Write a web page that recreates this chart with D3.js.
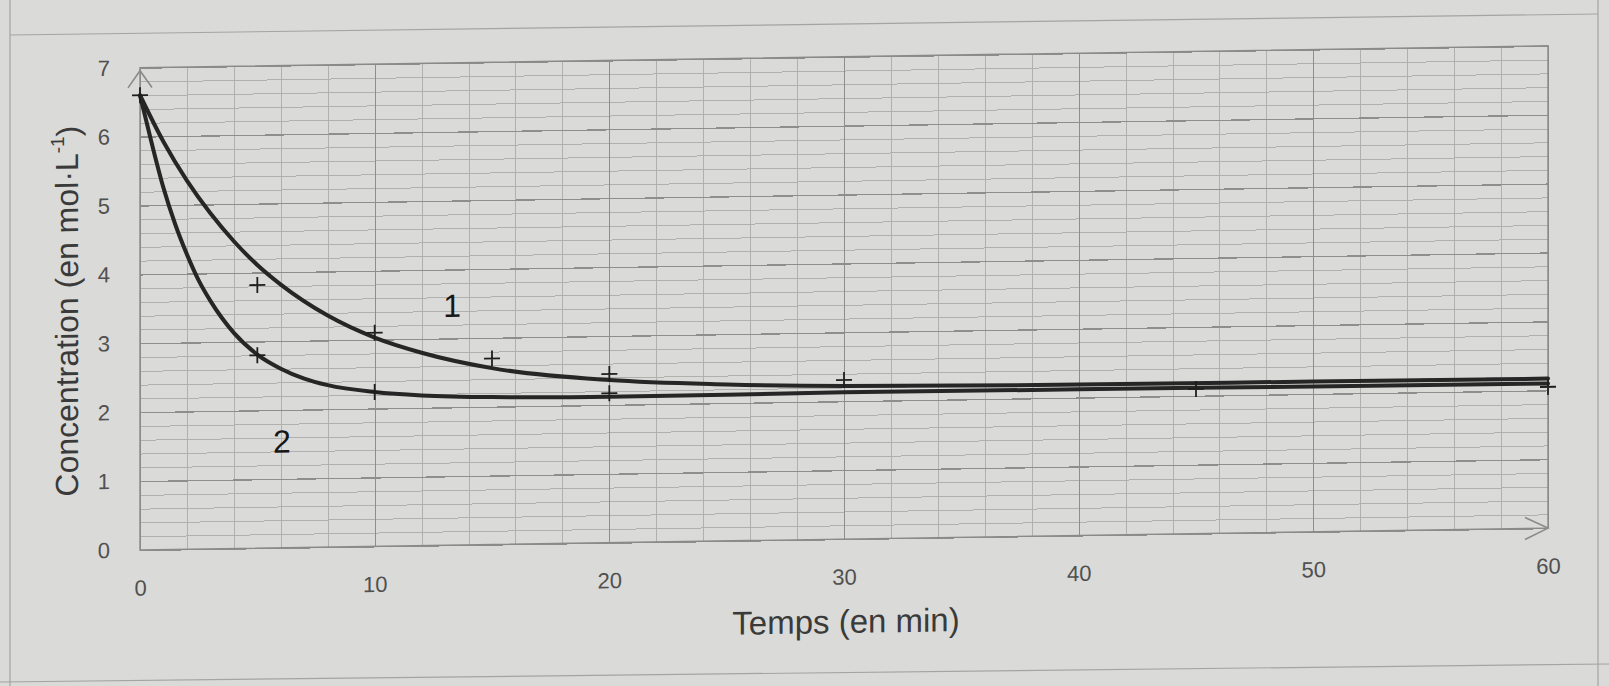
<!DOCTYPE html>
<html>
<head>
<meta charset="utf-8">
<script src="https://cdn.jsdelivr.net/npm/d3@7"></script>
<style>
  body { margin: 0; background: #dadad8; }
  svg { display: block; }
  .tick line { shape-rendering: crispEdges; }
</style>
</head>
<body>
<svg id="chart"></svg>
<script>
// data
var xTicks = [0, 10, 20, 30, 40, 50, 60];
var yTicks = [0, 1, 2, 3, 4, 5, 6, 7];

var t1 = [0, 1, 2, 3, 4, 5, 6, 8, 10, 12, 15, 20, 25, 30, 40, 50, 60];
var c1 = [6.6, 5.92, 5.35, 4.87, 4.46, 4.11, 3.82, 3.36, 3.03, 2.8, 2.56, 2.36, 2.27, 2.22, 2.19, 2.18, 2.17];

var t2 = [0, 0.5, 1, 1.5, 2, 2.5, 3, 4, 5, 6, 7, 8, 10, 12, 15, 20, 25, 30, 40, 50, 60];
var c2 = [6.6, 5.9, 5.25, 4.72, 4.28, 3.9, 3.6, 3.13, 2.81, 2.6, 2.45, 2.35, 2.24, 2.18, 2.14, 2.12, 2.12, 2.13, 2.12, 2.11, 2.1];

var markT = [0, 5, 5, 10, 10, 15, 20, 20, 30, 45, 60];
var markC = [6.6, 3.82, 2.8, 3.1, 2.24, 2.7, 2.45, 2.17, 2.31, 2.1, 2.05];

var curveNames = ["1", "2"];
var nameT = [13.3, 6.05];
var nameC = [3.48, 1.55];

var screen = {width: 1609, height: 686};
var plot = {left: 140, right: 1548, top: 67.7, bottom: 550};
var skew = -0.89; // the photo is a bit slanted

var svg = d3.select("#chart")
    .attr("width", screen.width)
    .attr("height", screen.height);

svg.append("rect")
    .attr("width", screen.width)
    .attr("height", screen.height)
    .attr("fill", "#dadad8");

// edges of the sheet
var sheet = svg.append("g")
    .attr("stroke", "#a4a4a2")
    .attr("stroke-width", 1.2)
    .attr("fill", "none");
sheet.append("line").attr("x1", 10).attr("y1", 0).attr("x2", 10).attr("y2", 686);
sheet.append("line").attr("x1", 10).attr("y1", 35).attr("x2", 1598).attr("y2", 14);
sheet.append("line").attr("x1", 1598).attr("y1", 0).attr("x2", 1598).attr("y2", 686);
sheet.append("line").attr("x1", 0).attr("y1", 682).attr("x2", 1609).attr("y2", 664);

var x = d3.scaleLinear().domain([0, 60]).range([plot.left, plot.right]);
var y = d3.scaleLinear().domain([0, 7]).range([plot.bottom, plot.top]);
var h = plot.bottom - plot.top;
var w = plot.right - plot.left;

var g = svg.append("g")
    .attr("transform", "translate(" + plot.left + ",0) skewY(" + skew + ") translate(" + (-plot.left) + ",0)");

// grid
var gridX = function(vals, color, width)
{
    var a = g.append("g")
        .attr("transform", "translate(0," + plot.bottom + ")")
        .call(d3.axisBottom(x).tickValues(vals).tickSize(-h).tickFormat(""));
    a.select(".domain").remove();
    a.selectAll("line").attr("stroke", color).attr("stroke-width", width);
};
var gridY = function(vals, color, width)
{
    var a = g.append("g")
        .attr("transform", "translate(" + plot.left + ",0)")
        .call(d3.axisLeft(y).tickValues(vals).tickSize(-w).tickFormat(""));
    a.select(".domain").remove();
    a.selectAll("line").attr("stroke", color).attr("stroke-width", width);
};
gridY(d3.range(0, 7.01, 0.2), "#b0b0ae", 1);
gridX(d3.range(0, 60.1, 2), "#b0b0ae", 1);
gridY(yTicks, "#8e8e8c", 1.3);
gridX(xTicks, "#8e8e8c", 1.3);

g.append("rect")
    .attr("x", plot.left)
    .attr("y", plot.top)
    .attr("width", w)
    .attr("height", h)
    .attr("fill", "none")
    .attr("stroke", "#8a8a88")
    .attr("stroke-width", 1.4);

// arrow heads
g.append("path")
    .attr("d", "M" + (plot.left - 12) + "," + (plot.top + 20) + "L" + plot.left + "," + (plot.top + 3) + "L" + (plot.left + 12) + "," + (plot.top + 20))
    .attr("fill", "none")
    .attr("stroke", "#8a8a88")
    .attr("stroke-width", 1.6);
g.append("path")
    .attr("d", "M" + (plot.right - 23) + "," + (plot.bottom - 11) + "L" + plot.right + "," + plot.bottom + "L" + (plot.right - 23) + "," + (plot.bottom + 11))
    .attr("fill", "none")
    .attr("stroke", "#8a8a88")
    .attr("stroke-width", 1.6);

// tick labels
var xAxis = g.append("g")
    .attr("transform", "translate(0," + plot.bottom + ")")
    .call(d3.axisBottom(x).tickValues(xTicks).tickSize(0).tickPadding(30).tickFormat(d3.format("d")));
xAxis.select(".domain").remove();
xAxis.selectAll("text")
    .attr("font-family", "Liberation Sans, Arial, sans-serif")
    .attr("font-size", 22)
    .attr("fill", "#505050");

var yAxis = g.append("g")
    .attr("transform", "translate(" + plot.left + ",0)")
    .call(d3.axisLeft(y).tickValues(yTicks).tickSize(0).tickPadding(30).tickFormat(d3.format("d")));
yAxis.select(".domain").remove();
yAxis.selectAll("text")
    .attr("font-family", "Liberation Sans, Arial, sans-serif")
    .attr("font-size", 22)
    .attr("fill", "#505050");

// curves
var line = d3.line()
    .x(function(d) { return x(d[0]); })
    .y(function(d) { return y(d[1]); })
    .curve(d3.curveMonotoneX);

var series = [d3.zip(t1, c1), d3.zip(t2, c2)];
g.append("g")
    .selectAll("path")
    .data(series)
    .enter()
    .append("path")
    .attr("d", line)
    .attr("fill", "none")
    .attr("stroke", "#262626")
    .attr("stroke-width", 4)
    .attr("stroke-linecap", "round");

// measured points
var marks = d3.zip(markT, markC);
g.append("g")
    .selectAll("path")
    .data(marks)
    .enter()
    .append("path")
    .attr("d", function(d)
    {
        var px = x(d[0]), py = y(d[1]);
        return "M" + (px - 8) + "," + py + "H" + (px + 8) + "M" + px + "," + (py - 8) + "V" + (py + 8);
    })
    .attr("stroke", "#1e1e1e")
    .attr("stroke-width", 1.8);

// curve numbers
g.append("g")
    .selectAll("text")
    .data(curveNames)
    .enter()
    .append("text")
    .attr("x", function(d, i) { return x(nameT[i]); })
    .attr("y", function(d, i) { return y(nameC[i]); })
    .attr("dy", "0.36em")
    .attr("text-anchor", "middle")
    .attr("font-family", "Liberation Sans, Arial, sans-serif")
    .attr("font-size", 32)
    .attr("fill", "#161616")
    .text(function(d) { return d; });

// axis titles
g.append("text")
    .attr("x", 846)
    .attr("y", 632)
    .attr("dy", "0.36em")
    .attr("text-anchor", "middle")
    .attr("font-family", "Liberation Sans, Arial, sans-serif")
    .attr("font-size", 33)
    .attr("fill", "#3a3a3a")
    .text("Temps (en min)");

var yt = g.append("text")
    .attr("transform", "translate(66,310) rotate(-90)")
    .attr("dy", "0.36em")
    .attr("text-anchor", "middle")
    .attr("font-family", "Liberation Sans, Arial, sans-serif")
    .attr("font-size", 32)
    .attr("fill", "#3a3a3a");
yt.append("tspan").text("Concentration (en mol·L");
yt.append("tspan").attr("font-size", 19).attr("dy", "-0.7em").text("-1");
yt.append("tspan").attr("dy", "0.45em").text(")");
</script>
</body>
</html>
